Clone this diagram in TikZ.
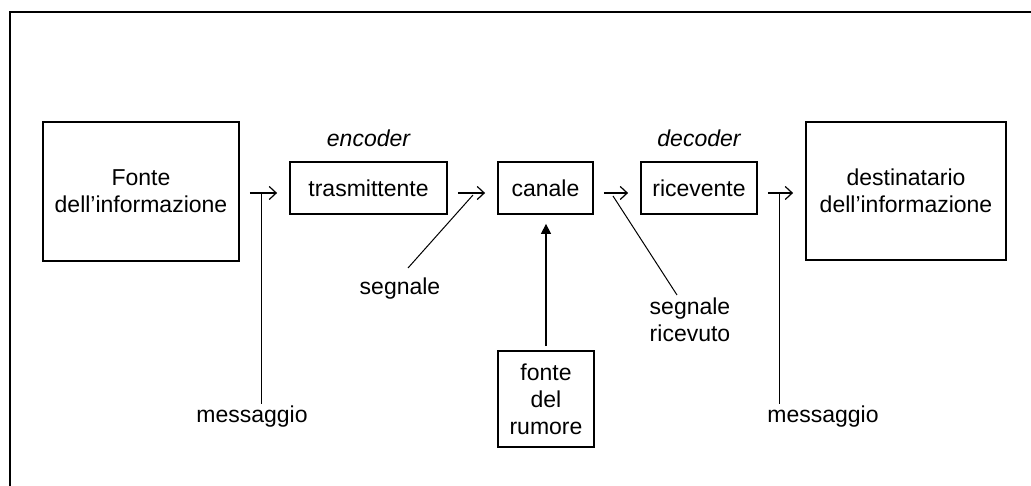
\documentclass[tikz,border=0pt]{standalone}
\usepackage{fontspec}
\setmainfont{Liberation Sans}
\usetikzlibrary{arrows.meta, positioning}

\newcommand{\diagfont}{\fontsize{23}{27}\selectfont}

\begin{document}
\begin{tikzpicture}[x=1pt, y=1pt,
		every node/.append style={font=\diagfont},
		block/.style={draw, line width=1.8pt, align=center, inner sep=0pt},
		lbl/.style={align=center, inner sep=2pt},
		flow/.style={line width=1.2pt, -{Straight Barb[length=7pt, width=13pt]}, shorten <=10pt, shorten >=12pt},
		lead/.style={line width=1pt}]
			\def\arrowY{293};

			\useasboundingbox (0,0) rectangle (1031,486);
			\draw[line width=2pt] (10,0) -- (10,474) -- (1031,474);

			% blocks of the chain
			\begin{scope}
				\node[block, minimum width=196pt, minimum height=139pt] (fonte) at (141,294.5) {Fonte\\dell'informazione};
				\node[block, minimum width=157pt, minimum height=52pt] (trasm) at (368.5,298) {trasmittente};
				\node[block, minimum width=95pt, minimum height=52pt] (canale) at (545.5,298) {canale};
				\node[block, minimum width=116pt, minimum height=52pt] (ricev) at (699,298) {ricevente};
				\node[block, minimum width=200pt, minimum height=138pt] (dest) at (906,295) {destinatario\\dell'informazione};
				\node[block, minimum width=96pt, minimum height=96pt] (rumore) at (546,87) {fonte\\del\\rumore};
			\end{scope}

			\node[lbl, font=\diagfont\itshape, above=12pt of trasm] (enc) {encoder};
			\node[lbl, font=\diagfont\itshape, above=12pt of ricev] (dec) {decoder};

			% labels below the chain
			\coordinate (tapA) at (261,\arrowY);
			\coordinate (tapB) at (779,\arrowY);
			\coordinate (sigA) at (473,291);
			\coordinate (sigB) at (613,290);
			\node[lbl, anchor=north] (msgA) at (252,82) {messaggio};
			\node[lbl, anchor=north] (msgB) at (823,82) {messaggio};
			\node[lbl, anchor=north] (segn) at (400,210) {segnale};
			\node[lbl, anchor=north] (segnR) at (690,190) {segnale\\ricevuto};

			\begin{scope}[flow]
				\draw (fonte.east |- tapA) -- (trasm.west |- tapA);
				\draw (trasm.east |- tapA) -- (canale.west |- tapA);
				\draw (canale.east |- tapA) -- (ricev.west |- tapA);
				\draw (ricev.east |- tapA) -- (dest.west |- tapA);
			\end{scope}

			\begin{scope}[lead]
				\draw (msgA.north -| tapA) -- (tapA);
				\draw (msgB.north -| tapB) -- (tapB);
				\draw ([shift={(8pt,8pt)}]segn.north) -- (sigA);
				\draw ([xshift=-13pt, yshift=1pt]segnR.north) -- (sigB);
			\end{scope}

			\draw[line width=1.2pt, -{Triangle[length=10pt, width=10pt]}, shorten <=4pt, shorten >=9pt] (rumore.north) -- (rumore.north |- canale.south);
		\end{tikzpicture}
\end{document}
